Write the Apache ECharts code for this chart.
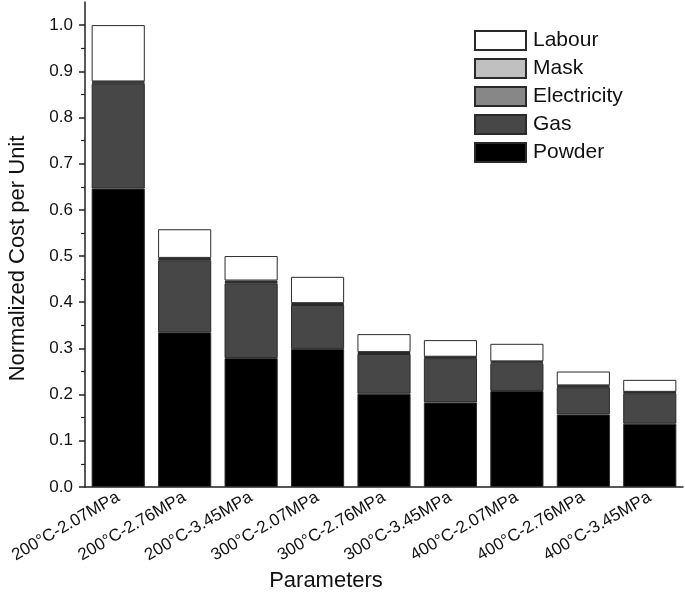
<!DOCTYPE html>
<html>
<head>
<meta charset="utf-8">
<script src="https://cdn.jsdelivr.net/npm/echarts@6/dist/echarts.min.js"></script>
<style>html,body{margin:0;padding:0;background:#fff;}#c{width:685px;height:592px;}</style>
</head>
<body>
<div id="c"></div>
<script>
const categories = ['200°C-2.07MPa','200°C-2.76MPa','200°C-3.45MPa','300°C-2.07MPa','300°C-2.76MPa','300°C-3.45MPa','400°C-2.07MPa','400°C-2.76MPa','400°C-3.45MPa'];
const powder      = [0.646, 0.335, 0.279, 0.299, 0.202, 0.183, 0.208, 0.157, 0.137];
const gas         = [0.227, 0.156, 0.162, 0.095, 0.086, 0.096, 0.059, 0.059, 0.066];
const electricity = [0.003, 0.003, 0.003, 0.002, 0.002, 0.002, 0.003, 0.002, 0.002];
const mask        = [0.002, 0.002, 0.003, 0.002, 0.002, 0.001, 0.002, 0.002, 0.001];
const labour      = [0.122, 0.062, 0.053, 0.057, 0.039, 0.036, 0.038, 0.030, 0.026];
const yTicks = [0, 0.1, 0.2, 0.3, 0.4, 0.5, 0.6, 0.7, 0.8, 0.9, 1.0];
const legendOrder = ['Labour','Mask','Electricity','Gas','Powder'];

const FONT = '"Liberation Sans", Arial, sans-serif';
const chart = echarts.init(document.getElementById('c'), null, {renderer: 'canvas'});
const mk = (name, data, color) => ({
  name, type: 'bar', stack: 'cost', data, barWidth: '80%',
  itemStyle: {color, borderColor: '#2a2a2a', borderWidth: 1},
  emphasis: {disabled: true}
});
chart.setOption({
  animation: false,
  textStyle: {fontFamily: FONT},
  grid: {left: 85, right: 2, top: 2, bottom: 105, outerBoundsMode: 'none', containLabel: false},
  legend: {
    orient: 'vertical', left: 474, top: 30, padding: 0, itemWidth: 51, itemHeight: 19, itemGap: 7,
    icon: 'rect',
    data: legendOrder,
    textStyle: {fontFamily: FONT, fontSize: 21, color: '#111', padding: [0, 0, 0, 2]}
  },
  xAxis: {
    type: 'category', data: categories,
    name: 'Parameters', nameLocation: 'middle', nameGap: 79,
    nameTextStyle: {fontFamily: FONT, fontSize: 22, color: '#111', padding: [0, 116, 0, 0]},
    axisLine: {lineStyle: {color: '#222', width: 1.5}},
    axisTick: {alignWithLabel: true, length: 7, lineStyle: {color: '#222', width: 1.5}},
    axisLabel: {rotate: 30, fontFamily: FONT, fontSize: 17, color: '#111', margin: 9, interval: 0,
      hideOverlap: false}
  },
  yAxis: {
    type: 'value', min: 0, max: 1.05, interval: 0.1,
    name: 'Normalized Cost per Unit', nameLocation: 'middle', nameGap: 56,
    nameTextStyle: {fontFamily: FONT, fontSize: 22, color: '#111', padding: [0, 28, 0, 0]},
    axisLine: {show: true, lineStyle: {color: '#222', width: 1.5}},
    axisTick: {show: true, length: 6, customValues: yTicks, lineStyle: {color: '#222', width: 1.5}},
    minorTick: {show: true, splitNumber: 2, length: 4, lineStyle: {color: '#222', width: 1.2}},
    axisLabel: {customValues: yTicks, fontFamily: FONT, fontSize: 17, color: '#111', margin: 12,
      formatter: v => v.toFixed(1)},
    splitLine: {show: false}
  },
  series: [
    mk('Powder', powder, '#000000'),
    mk('Gas', gas, '#474747'),
    mk('Electricity', electricity, '#878787'),
    mk('Mask', mask, '#c0c0c0'),
    mk('Labour', labour, '#ffffff')
  ]
});
</script>
</body>
</html>
